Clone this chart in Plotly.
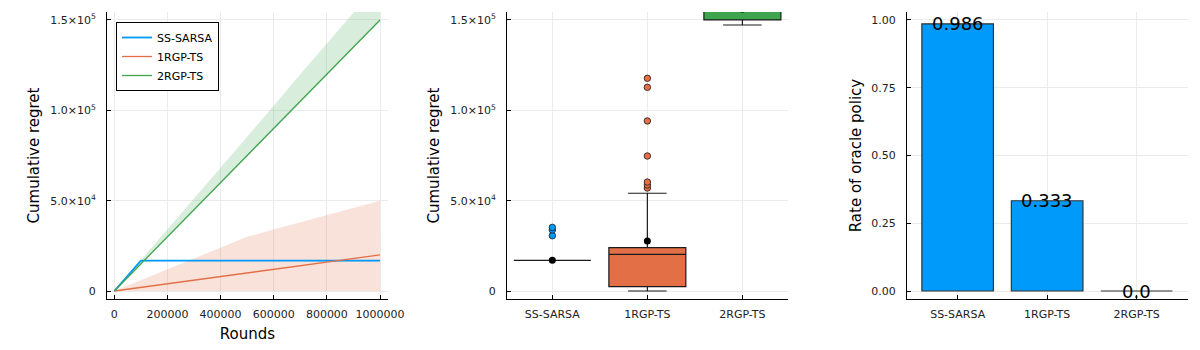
import plotly.graph_objects as go
from plotly.subplots import make_subplots

# ─── Datos

metodos = ["SS-SARSA", "1RGP-TS", "2RGP-TS"]
colores = ["#009AFA", "#E36F47", "#3EA44E"]
grosores = [1.8, 1.3, 1.3]

rondas = [0, 100000, 200000, 300000, 400000, 500000, 600000, 700000, 800000, 900000, 1000000]

ss_sarsa_media = [0, 16800, 16800, 16800, 16800, 16800, 16800, 16800, 16800, 16800, 16800]
ss_sarsa_sup = [0, 17200, 17200, 17200, 17200, 17200, 17200, 17200, 17200, 17200, 17200]
ss_sarsa_inf = [0, 16300, 16300, 16300, 16300, 16300, 16300, 16300, 16300, 16300, 16300]

rgp1_media = [0, 2000, 4000, 6000, 8000, 10000, 12000, 14000, 16000, 18000, 20000]
rgp1_sup = [0, 6000, 12000, 18000, 24000, 30000, 34000, 38000, 42000, 46000, 50000]
rgp1_inf = [0, 0, 0, 0, 0, 0, 0, 0, 0, 0, 0]

rgp2_media = [0, 15000, 30000, 45000, 60000, 75000, 90000, 105000, 120000, 135000, 150000]
rgp2_sup = [0, 17000, 34000, 51000, 68500, 85500, 102500, 120000, 137000, 154000, 171000]
rgp2_inf = [0, 15000, 30000, 45000, 60000, 75000, 90000, 105000, 120000, 135000, 150000]

# cajas (regret final)
q1 = [17000, 2400, 150000]
mediana = [17000, 20300, 157000]
q3 = [17000, 24000, 162000]
bigote_inf = [17000, 0, 147200]
bigote_sup = [17000, 54100, 170000]
medias = [17000, 27700, 156000]
outliers = {
    "SS-SARSA": [30600, 33800, 35200],
    "1RGP-TS": [57000, 58700, 60300, 74700, 94100, 112700, 117700],
    "2RGP-TS": [],
}

# tasa de política oráculo
tasa_oraculo = [0.986, 0.333, 0.0]
etiquetas_tasa = ["0.986", "0.333", "0.0"]

ticks_regret = [0, 50000, 100000, 150000]
textos_regret = ["0", "5.0×10<sup>4</sup>", "1.0×10<sup>5</sup>", "1.5×10<sup>5</sup>"]
ticks_rondas = [0, 200000, 400000, 600000, 800000, 1000000]

FUENTE = "DejaVu Sans"
GRILLA = "#ebebeb"


def rgba(hexcol, a):
    h = hexcol.lstrip("#")
    return "rgba(%d,%d,%d,%s)" % (int(h[0:2], 16), int(h[2:4], 16), int(h[4:6], 16), a)


fig = make_subplots(rows=1, cols=3)

# ─── Panel 1: regret acumulado vs rondas
bandas = [(ss_sarsa_inf, ss_sarsa_sup), (rgp1_inf, rgp1_sup), (rgp2_inf, rgp2_sup)]
lineas = [ss_sarsa_media, rgp1_media, rgp2_media]
for i, m in enumerate(metodos):
    inf, sup = bandas[i]
    fig.add_trace(go.Scatter(x=rondas, y=inf, mode="lines", line=dict(width=0),
                             showlegend=False, hoverinfo="skip"), row=1, col=1)
    fig.add_trace(go.Scatter(x=rondas, y=sup, mode="lines", line=dict(width=0),
                             fill="tonexty", fillcolor=rgba(colores[i], 0.2),
                             showlegend=False, hoverinfo="skip"), row=1, col=1)
for i, m in enumerate(metodos):
    fig.add_trace(go.Scatter(x=rondas, y=lineas[i], mode="lines", name=m,
                             line=dict(color=colores[i], width=grosores[i])), row=1, col=1)

# ─── Panel 2: boxplot
for i, m in enumerate(metodos):
    fig.add_trace(go.Box(x=[m], q1=[q1[i]], median=[mediana[i]], q3=[q3[i]],
                         lowerfence=[bigote_inf[i]], upperfence=[bigote_sup[i]],
                         width=0.81, whiskerwidth=0.5, fillcolor=colores[i],
                         line=dict(color="#1a1a1a", width=1.2), boxpoints=False,
                         showlegend=False), row=1, col=2)
    if outliers[m]:
        fig.add_trace(go.Scatter(x=[m] * len(outliers[m]), y=outliers[m], mode="markers",
                                 marker=dict(color=colores[i], size=6.5,
                                             line=dict(color="#1a1a1a", width=0.8)),
                                 showlegend=False), row=1, col=2)
fig.add_trace(go.Scatter(x=metodos, y=medias, mode="markers",
                         marker=dict(color="black", size=7), showlegend=False), row=1, col=2)

# ─── Panel 3: barras
fig.add_trace(go.Bar(x=metodos, y=tasa_oraculo, width=0.8,
                     marker=dict(color="#009AFA", line=dict(color="#333333", width=1.2)),
                     showlegend=False), row=1, col=3)
for m, v, t in zip(metodos, tasa_oraculo, etiquetas_tasa):
    fig.add_annotation(x=m, y=v, text=t, showarrow=False, xref="x3", yref="y3",
                       yanchor="middle", xanchor="center",
                       font=dict(size=18, color="black", family=FUENTE))

# automargin apagado: si no, las etiquetas empujan el área del gráfico
ejes = dict(showline=True, linecolor="black", linewidth=1, mirror=False,
            ticks="inside", ticklen=4, tickcolor="black", showgrid=True,
            gridcolor=GRILLA, gridwidth=1, zeroline=False, automargin=False,
            tickfont=dict(size=11, color="#222"))
fig.update_xaxes(ticklabelstandoff=5, **ejes)
fig.update_yaxes(ticklabelstandoff=8, **ejes)

yd = [51 / 350, 338 / 350]
fig.update_layout(
    xaxis=dict(domain=[107 / 1200, 388 / 1200], range=[-27500, 1030000],
               tickvals=ticks_rondas, tickformat="d",
               title=dict(text="Rounds", font=dict(size=15), standoff=8)),
    yaxis=dict(domain=yd, range=[-4430, 154400], tickvals=ticks_regret, ticktext=textos_regret,
               title=dict(text="Cumulative regret", font=dict(size=15), standoff=6)),
    xaxis2=dict(domain=[507 / 1200, 788 / 1200], range=[-0.477, 2.48],
                categoryorder="array", categoryarray=metodos),
    yaxis2=dict(domain=yd, range=[-4430, 154400], tickvals=ticks_regret, ticktext=textos_regret,
                title=dict(text="Cumulative regret", font=dict(size=15), standoff=6)),
    xaxis3=dict(domain=[907 / 1200, 1188 / 1200], range=[-0.566, 2.574],
                categoryorder="array", categoryarray=metodos),
    yaxis3=dict(domain=yd, range=[-0.0295, 1.0295], tickvals=[0, 0.25, 0.5, 0.75, 1.0],
                tickformat=".2f",
                title=dict(text="Rate of oracle policy", font=dict(size=15), standoff=6)),
    boxmode="overlay",
    autosize=False,
    width=1200, height=350,
    margin=dict(l=0, r=0, t=0, b=0),
    paper_bgcolor="white", plot_bgcolor="white",
    font=dict(family=FUENTE, color="black"),
    legend=dict(x=116 / 1200, y=1 - 22 / 350, xanchor="left", yanchor="top",
                traceorder="normal",
                bgcolor="white", bordercolor="black", borderwidth=1,
                font=dict(size=11), itemwidth=30, tracegroupgap=0),
)

# sin margen ni barras de desplazamiento: la figura ocupa justo la ventana
ajuste_pagina = ("document.documentElement.style.overflow='hidden';"
                 "document.body.style.overflow='hidden';"
                 "document.body.style.margin='0';")
fig.write_html("out.html", config={"displayModeBar": False, "responsive": False},
               post_script=ajuste_pagina)
print("✅ Figura generada: out.html")
